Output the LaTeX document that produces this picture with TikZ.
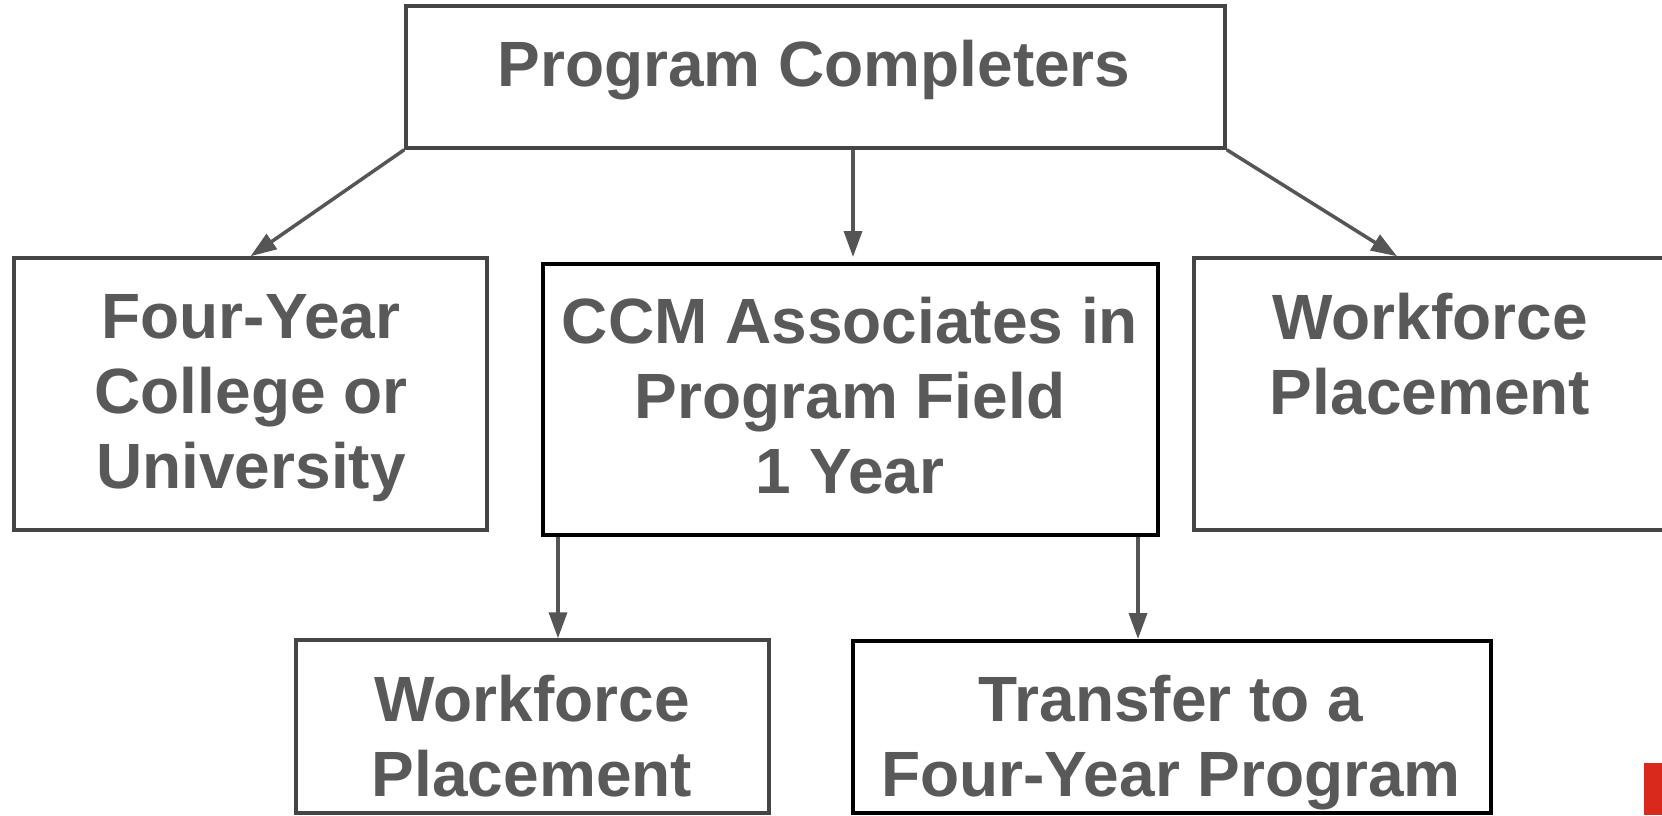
\documentclass[tikz,border=0pt]{standalone}
\usepackage{fontspec}
\setmainfont{Liberation Sans}
\usetikzlibrary{arrows.meta}
\definecolor{txt}{HTML}{595959}
\definecolor{edgegray}{HTML}{454545}
\definecolor{arrgray}{HTML}{555555}
\definecolor{redmark}{HTML}{D9291C}
\begin{document}
\begin{tikzpicture}[x=1pt,y=-1pt,
  graybox/.style={draw=edgegray,line width=3.5pt,inner sep=0pt,fill=white},
  blackbox/.style={draw=black,line width=4pt,inner sep=0pt,fill=white},
  lbl/.style={text=txt,font=\bfseries\fontsize{64}{75}\selectfont,align=center,inner sep=0pt},
  arr/.style={draw=arrgray,line width=3.5pt,-{Triangle[length=26pt,width=18pt]}}]
\useasboundingbox (0,0) rectangle (1662,815);
\fill[white] (0,0) rectangle (1662,815);
% boxes
\node[graybox,minimum width=819pt,minimum height=142pt] (top) at (815.5,77) {};
\node[graybox,minimum width=473pt,minimum height=272pt] (left) at (250.5,394) {};
\node[blackbox,minimum width=615pt,minimum height=271pt] (mid) at (850.5,399.5) {};
\node[graybox,minimum width=496pt,minimum height=272pt] (right) at (1442,394) {};
\node[graybox,minimum width=473pt,minimum height=173pt] (bl) at (532.5,726.5) {};
\node[blackbox,minimum width=638pt,minimum height=172pt] (br) at (1172,727) {};
% texts
\node[lbl] (ttop) at (814,70) {Program Completers};
\node[lbl] (tleft) at (251,398) {Four-Year\\College or\\University};
\node[lbl] (tmid) at (850,396) {CCM Associates in\\Program Field\\1 Year};
\node[lbl] (tright) at (1430,354) {Workforce\\Placement};
\node[lbl] (tbl) at (532,736.5) {Workforce\\Placement};
\node[lbl] (tbr) at (1171,743) {Transfer to a\\Four-Year Program};
% connectors
\draw[arr] (top.south west) -- (left.north);
\draw[arr,shorten >=5pt] ([xshift=37.5pt]top.south) -- ([xshift=37.5pt]top.south |- mid.north);
\draw[arr] (top.south east) -- ([xshift=-45pt]right.north);
\draw[arr] ([xshift=17pt]mid.south west) -- ([xshift=17pt]mid.south west |- bl.north);
\draw[arr] ([xshift=-22pt]mid.south east) -- ([xshift=-22pt]mid.south east |- br.north);
% red mark at lower right
\fill[redmark] (1644,763) rectangle (1662,815);
\end{tikzpicture}
\end{document}
